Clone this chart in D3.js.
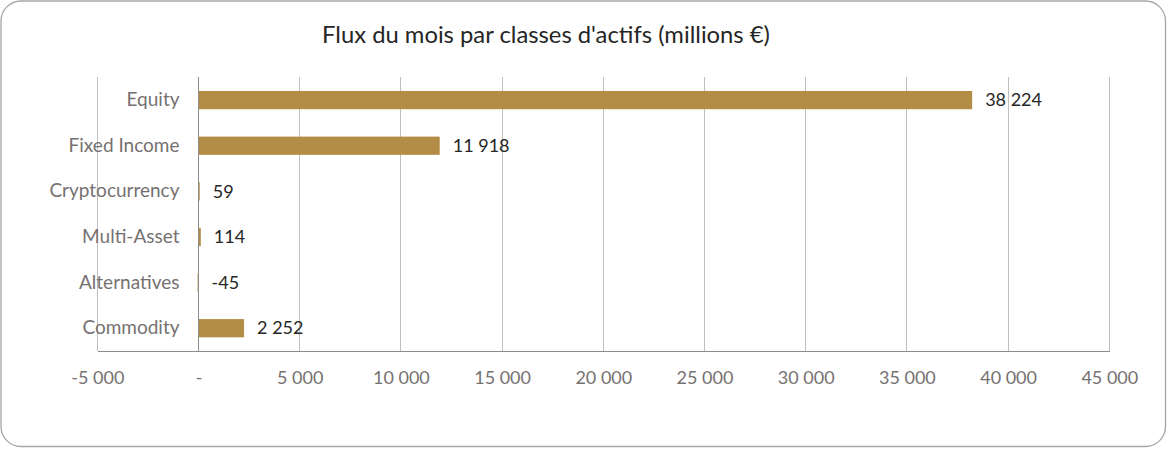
<!DOCTYPE html>
<html>
<head>
<meta charset="utf-8">
<script src="https://cdn.jsdelivr.net/npm/d3@7"></script>
<style>
  html,body{margin:0;padding:0;background:#fff;}
  svg{display:block;}
  text{font-family:Lato,"Open Sans",sans-serif;}
</style>
</head>
<body>
<svg id="chart" width="1167" height="449"></svg>
<script>
const title = "Flux du mois par classes d'actifs (millions €)";
const categories = ["Equity","Fixed Income","Cryptocurrency","Multi-Asset","Alternatives","Commodity"];
const values = [38224, 11918, 59, 114, -45, 2252];
const tickValues = [-5000,0,5000,10000,15000,20000,25000,30000,35000,40000,45000];
const xDomain = [-5000, 45000];

const svg = d3.select("#chart");
const W = 1167, H = 449;
const m = {left:97.3, right:W-1109.3, top:77.3, bottom:H-351};

svg.append("rect").attr("x",1).attr("y",1).attr("width",W-2.5).attr("height",H-3.5)
  .attr("rx",20).attr("ry",20).attr("fill","#fff").attr("stroke","#a6a6a6").attr("stroke-width",1.3);

const x = d3.scaleLinear().domain(xDomain).range([m.left, W-m.right]);
const y = d3.scaleBand().domain(categories).range([m.top, H-m.bottom]).paddingInner(0.6).paddingOuter(0.3);

const loc = d3.formatLocale({decimal:",", thousands:" ", grouping:[3], currency:["","€"], minus:"-"});
const fmt = loc.format(",d");
const tickFmt = v => v === 0 ? "-" : fmt(v);

// gridlines
svg.append("g").selectAll("line").data(tickValues.filter(v=>v!==0)).join("line")
  .attr("x1",d=>x(d)).attr("x2",d=>x(d)).attr("y1",m.top).attr("y2",H-m.bottom)
  .attr("stroke","#bfbfbf").attr("stroke-width",1).attr("shape-rendering","crispEdges");

// bars
svg.append("g").selectAll("rect").data(values).join("rect")
  .attr("x",d=>x(Math.min(0,d)))
  .attr("width",d=>Math.abs(x(d)-x(0)))
  .attr("y",(d,i)=>y(categories[i]))
  .attr("height",y.bandwidth())
  .attr("fill","#b38d46");

// zero axis line
svg.append("line").attr("x1",x(0)).attr("x2",x(0)).attr("y1",m.top).attr("y2",H-m.bottom)
  .attr("stroke","#8c8c8c").attr("stroke-width",1).attr("shape-rendering","crispEdges");

// bottom axis
const xAxis = d3.axisBottom(x).tickValues(tickValues).tickFormat(tickFmt).tickSize(0).tickPadding(20);
const gx = svg.append("g").attr("transform",`translate(0,${H-m.bottom})`).call(xAxis);
gx.select(".domain").attr("stroke","#8c8c8c").attr("shape-rendering","crispEdges");
gx.selectAll("text").attr("fill","#767171").attr("font-size",18).attr("font-family","Lato");

// category axis
const yAxis = d3.axisLeft(y).tickSize(0).tickPadding(0);
const gy = svg.append("g").attr("transform",`translate(179.5,0)`).call(yAxis);
gy.select(".domain").remove();
gy.selectAll("text").attr("fill","#767171").attr("font-size",19).attr("font-family","Lato");

// value labels
svg.append("g").selectAll("text").data(values).join("text")
  .attr("x",d=>x(Math.max(0,d))+13)
  .attr("y",(d,i)=>y(categories[i])+y.bandwidth()/2)
  .attr("dy","0.35em")
  .attr("fill","#262626").attr("font-size",18)
  .text(d=>fmt(d));

// title
svg.append("text").attr("x",546).attr("y",43).attr("text-anchor","middle")
  .attr("fill","#262626").attr("font-size",23.8).text(title);
</script>
</body>
</html>
